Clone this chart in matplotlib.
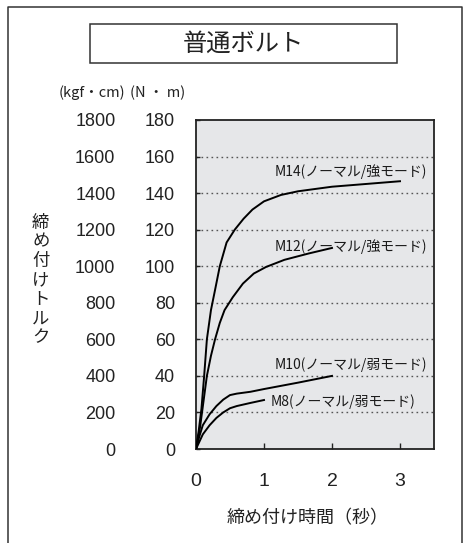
import matplotlib
matplotlib.use("Agg")
import matplotlib.pyplot as plt
from matplotlib.patches import Rectangle
from matplotlib.lines import Line2D

plt.rcParams['font.family'] = ['Noto Sans CJK JP', 'DejaVu Sans']

# tightening time (s) vs torque (N・m)
m14_t = [0, 0.04, 0.08, 0.12, 0.16, 0.22, 0.28, 0.35, 0.45, 0.57, 0.7, 0.83, 1.0, 1.25, 1.5, 2.0, 2.5, 3.0]
m14_nm = [0, 10, 22, 40, 60, 76, 87, 100, 113, 120, 126, 131, 135.5, 139, 141, 143.5, 145, 146.5]
m12_t = [0, 0.06, 0.11, 0.16, 0.22, 0.28, 0.35, 0.42, 0.54, 0.69, 0.85, 1.03, 1.3, 1.66, 2.0]
m12_nm = [0, 12, 26, 40, 51, 60, 69, 76, 83, 90.5, 96, 99.6, 103.5, 107, 110]
m10_t = [0, 0.05, 0.1, 0.2, 0.3, 0.4, 0.5, 0.6, 0.8, 1.0, 1.5, 2.0]
m10_nm = [0, 7, 13, 19, 23.5, 27, 29.5, 30.3, 31.3, 32.8, 36.3, 40]
m8_t = [0, 0.05, 0.1, 0.2, 0.3, 0.4, 0.5, 0.6, 0.8, 1.0]
m8_nm = [0, 4, 8, 13, 17, 20, 22.3, 23.5, 25.2, 26.8]

nm_ticks = [0, 20, 40, 60, 80, 100, 120, 140, 160, 180]
kgf_ticks = [0, 200, 400, 600, 800, 1000, 1200, 1400, 1600, 1800]
grid_nm = [20, 40, 60, 80, 100, 120, 140, 160]
sec_ticks = [0, 1, 2, 3]

W, H = 463, 543
fig = plt.figure(figsize=(W / 100, H / 100), dpi=100)


def fx(px):
    return px / W


def fy(py):
    return 1 - py / H


# outer frame (open at the bottom) and title box
fig.add_artist(Line2D([fx(8), fx(8), fx(461.5), fx(461.5)], [0, fy(7), fy(7), 0],
                      transform=fig.transFigure, color='#333333', lw=1.1))
fig.add_artist(Rectangle((fx(90), fy(63)), (397 - 90) / W, (63 - 24) / H,
                         transform=fig.transFigure, fill=False, ec='#333333', lw=1.1))
fig.text(fx(243), fy(44), '普通ボルト', ha='center', va='center', fontsize=17.5, color='#222222')

ax = fig.add_axes([fx(196), fy(449), (434 - 196) / W, (449 - 120) / H])
ax.set_facecolor('#e6e7e9')
ax.set_xlim(0, 3.5)
ax.set_ylim(0, 180)
for v in grid_nm:
    ax.axhline(v, color='#555555', lw=1.0, ls=(0, (1.2, 2.4)), zorder=1)

for t, nm in [(m14_t, m14_nm), (m12_t, m12_nm), (m10_t, m10_nm), (m8_t, m8_nm)]:
    ax.plot(t, nm, color='black', lw=1.4, zorder=3)

lab_kw = dict(fontsize=10, color='#1a1a1a', va='center')
ax.text(3.4, 152, 'M14(ノーマル/強モード)', ha='right', **lab_kw)
ax.text(3.4, 110.5, 'M12(ノーマル/強モード)', ha='right', **lab_kw)
ax.text(3.4, 46.4, 'M10(ノーマル/弱モード)', ha='right', **lab_kw)
ax.text(1.1, 25.8, 'M8(ノーマル/弱モード)', ha='left', **lab_kw)

for s in ax.spines.values():
    s.set_color('#222222')
    s.set_linewidth(1.3)

ax.set_yticks(nm_ticks)
ax.set_yticklabels([str(v) for v in nm_ticks], fontfamily='Liberation Sans', fontsize=13, color='#222222')
ax.tick_params(axis='y', direction='in', length=3, width=1, pad=15, colors='#222222')
ax.set_xticks(sec_ticks)
ax.set_xticklabels([str(v) for v in sec_ticks], fontfamily='Liberation Sans', fontsize=14, color='#222222')
ax.tick_params(axis='x', direction='in', length=4.3, width=1, pad=17.5, colors='#222222')

secax = ax.secondary_yaxis('left', functions=(lambda v: v * 10, lambda v: v / 10))
secax.set_yticks(kgf_ticks)
secax.set_yticklabels([str(v) for v in kgf_ticks], fontfamily='Liberation Sans', fontsize=13, color='#222222')
secax.tick_params(length=0, pad=58)
secax.spines['left'].set_visible(False)

fig.text(fx(92), fy(93), '(kgf・cm)', ha='center', va='center', fontsize=10.5, color='#222222')
fig.text(fx(158), fy(93), '(N ・ m)', ha='center', va='center', fontsize=10.5, color='#222222')
fig.text(fx(40.7), fy(280), '\n'.join('締め付けトルク'), ha='center', va='center',
         fontsize=12.5, linespacing=1.08, color='#222222')
fig.text(fx(308), fy(518), '締め付け時間（秒）', ha='center', va='center', fontsize=13, color='#222222')

fig.savefig('out.png', dpi=100)
